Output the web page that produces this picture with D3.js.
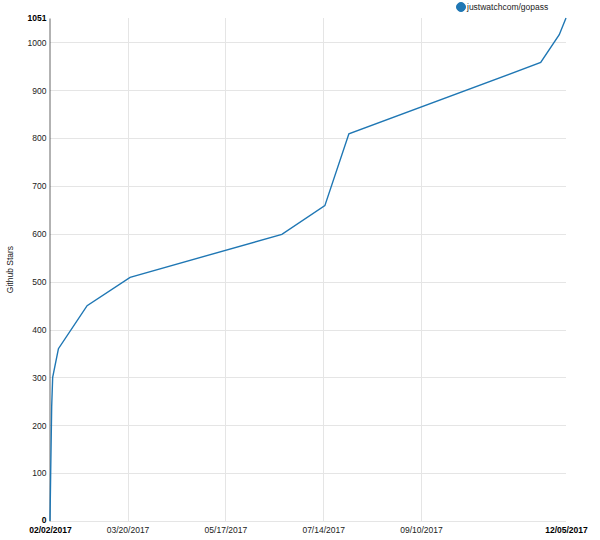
<!DOCTYPE html>
<html>
<head>
<meta charset="utf-8">
<script src="https://cdn.jsdelivr.net/npm/d3@7"></script>
<style>
  html, body { margin: 0; padding: 0; background: #fff; }
  svg { display: block; font-family: "Liberation Sans", Arial, sans-serif; }
</style>
</head>
<body>
<svg id="chart" width="600" height="540"></svg>
<script>
// ---- data ----
const seriesName = "justwatchcom/gopass";
const dates = [
  "2017-02-02T00:00", "2017-02-02T10:00", "2017-02-03T00:00", "2017-02-03T14:00",
  "2017-02-07T00:00", "2017-02-24T00:00", "2017-03-21T12:00", "2017-06-19T12:00",
  "2017-07-15T00:00", "2017-07-29T06:00", "2017-11-20T00:00", "2017-12-01T00:00",
  "2017-12-05T00:00"
];
const stars = [0, 105, 240, 300, 360, 450, 509, 599, 659, 809, 958, 1016, 1051];
const xTickLabels = ["03/20/2017", "05/17/2017", "07/14/2017", "09/10/2017"];
const xMinLabel = "02/02/2017";
const xMaxLabel = "12/05/2017";
const yTicks = [0, 100, 200, 300, 400, 500, 600, 700, 800, 900, 1000];
const yMax = 1051;
const yTitle = "Github Stars";

// ---- setup ----
const parseISO = d3.timeParse("%Y-%m-%dT%H:%M");
const parseTick = d3.timeParse("%m/%d/%Y");
const fmt = d3.timeFormat("%m/%d/%Y");
const data = dates.map((d, i) => ({ date: parseISO(d), value: stars[i] }));

const mL = 50, mR = 566, mT = 18, mB = 521;
const svg = d3.select("#chart");

const x = d3.scaleTime()
  .domain([parseTick(xMinLabel), parseTick(xMaxLabel)])
  .range([mL, mR]);
const y = d3.scaleLinear().domain([0, yMax]).range([mB, mT]);

const fontSize = "8.5px";

// grid lines
const grid = svg.append("g");
grid.selectAll("line.h").data(yTicks).join("line")
  .attr("x1", mL).attr("x2", mR)
  .attr("y1", d => Math.round(y(d)) + 0.5).attr("y2", d => Math.round(y(d)) + 0.5)
  .attr("stroke", "#e5e5e5").attr("stroke-width", 1);
grid.selectAll("line.v").data(xTickLabels.map(parseTick)).join("line")
  .attr("x1", d => Math.round(x(d)) + 0.5).attr("x2", d => Math.round(x(d)) + 0.5)
  .attr("y1", mT).attr("y2", mB)
  .attr("stroke", "#e5e5e5").attr("stroke-width", 1);

// y axis
const yAxis = d3.axisLeft(y).tickValues(yTicks).tickFormat(d3.format("d")).tickSize(0).tickPadding(3);
const yg = svg.append("g").attr("transform", `translate(${mL - 0.5},0)`).call(yAxis);
yg.select(".domain").attr("stroke", "#000").attr("stroke-opacity", 0.6).attr("stroke-width", 1);
yg.selectAll(".tick text").attr("font-size", fontSize)
  .attr("font-family", "Liberation Sans, Arial, sans-serif")
  .attr("font-weight", d => d === 0 ? "bold" : "normal")
  .attr("fill", d => d === 0 ? "#000" : "#222")
  .attr("dy", d => d === 0 ? "0.2em" : "0.32em");
// max label
yg.append("text").attr("x", -3).attr("y", y(yMax)).attr("dy", "0.32em")
  .attr("text-anchor", "end").attr("font-size", fontSize).attr("font-weight", "bold")
  .attr("fill", "#000").text(yMax);

// x axis
const xTickDates = [parseTick(xMinLabel)].concat(xTickLabels.map(parseTick), [parseTick(xMaxLabel)]);
const xAxis = d3.axisBottom(x).tickValues(xTickDates).tickFormat(fmt).tickSize(0).tickPadding(6);
const xg = svg.append("g").attr("transform", `translate(0,${mB})`).call(xAxis);
xg.select(".domain").remove();
xg.selectAll(".tick text").attr("font-size", fontSize)
  .attr("font-family", "Liberation Sans, Arial, sans-serif")
  .attr("font-weight", (d, i) => (i === 0 || i === xTickDates.length - 1) ? "bold" : "normal")
  .attr("fill", (d, i) => (i === 0 || i === xTickDates.length - 1) ? "#000" : "#222")
  .attr("text-anchor", "middle");

// y title
svg.append("text")
  .attr("transform", `translate(13,${(mT + mB) / 2}) rotate(-90)`)
  .attr("text-anchor", "middle").attr("font-size", fontSize).attr("fill", "#222")
  .text(yTitle);

// line
const line = d3.line().x(d => x(d.date)).y(d => y(d.value));
svg.append("path").datum(data)
  .attr("d", line).attr("fill", "none")
  .attr("stroke", "#1f77b4").attr("stroke-width", 1.4);

// legend
const lg = svg.append("g").attr("transform", "translate(461,7)");
lg.append("circle").attr("r", 4.5).attr("fill", "#1f77b4").attr("stroke", "#1f77b4");
lg.append("text").attr("x", 6).attr("dy", "0.32em").attr("font-size", fontSize)
  .attr("fill", "#222").text(seriesName);
</script>
</body>
</html>
